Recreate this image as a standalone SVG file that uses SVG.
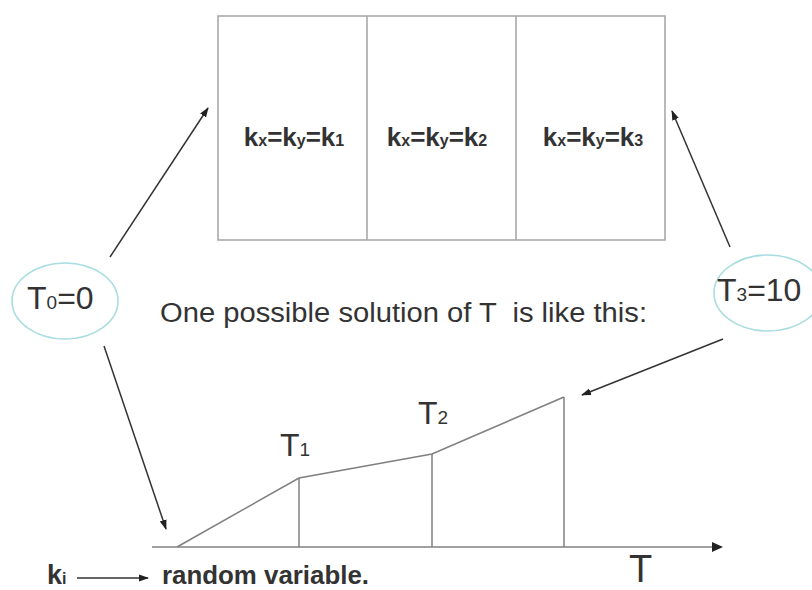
<svg xmlns="http://www.w3.org/2000/svg" width="812" height="590" viewBox="0 0 812 590">
<defs>
<marker id="ah" viewBox="0 0 10 10" refX="9" refY="5" markerWidth="10" markerHeight="10" markerUnits="userSpaceOnUse" orient="auto"><path d="M0,1.5 L10,5 L0,8.5 z" fill="#222"/></marker>
</defs>
<style>
.t{font-family:"Liberation Sans",Arial,sans-serif;fill:#333}
.b{font-weight:bold}
.box{fill:#fff;stroke:#a8a8a8;stroke-width:1.6}
.div{stroke:#a8a8a8;stroke-width:1.6}
.ell{fill:none;stroke:#a9dde0;stroke-width:1.6}
.conn{stroke:#333;stroke-width:1.5;fill:none;marker-end:url(#ah)}
.plot{stroke:#808080;stroke-width:1.5;fill:none}
</style>
<rect width="812" height="590" fill="#fff"/>
<g id="box">
<rect class="box" x="218" y="16" width="447" height="224"/>
<line class="div" x1="367" y1="16" x2="367" y2="240"/>
<line class="div" x1="516" y1="16" x2="516" y2="240"/>
</g>
<g id="cell1"><text class="t b" x="294" y="146" font-size="26" text-anchor="middle">k<tspan font-size="16">x</tspan>=k<tspan font-size="16">y</tspan>=k<tspan font-size="16">1</tspan></text></g>
<g id="cell2"><text class="t b" x="437" y="146" font-size="26" text-anchor="middle">k<tspan font-size="16">x</tspan>=k<tspan font-size="16">y</tspan>=k<tspan font-size="16">2</tspan></text></g>
<g id="cell3"><text class="t b" x="593" y="146" font-size="26" text-anchor="middle">k<tspan font-size="16">x</tspan>=k<tspan font-size="16">y</tspan>=k<tspan font-size="16">3</tspan></text></g>
<g id="t0">
<ellipse class="ell" cx="65" cy="301" rx="53" ry="38"/>
<text class="t" x="27" y="309" font-size="32">T<tspan font-size="19">0</tspan>=0</text>
</g>
<g id="t3">
<ellipse class="ell" cx="768" cy="293" rx="54" ry="38"/>
<text class="t" x="717" y="301" font-size="32">T<tspan font-size="19">3</tspan>=10</text>
</g>
<g id="caption">
<text class="t" x="160" y="322" font-size="27" textLength="487" lengthAdjust="spacingAndGlyphs" xml:space="preserve">One possible solution of T  is like this:</text>
</g>
<g id="graph">
<line class="plot" x1="152" y1="547" x2="712" y2="547"/>
<path d="M712,542 L723,547 L712,552 z" fill="#222"/>
<polyline class="plot" points="177,547 299,478 432,454 564,397"/>
<line class="plot" x1="299" y1="478" x2="299" y2="547"/>
<line class="plot" x1="432" y1="454" x2="432" y2="547"/>
<line class="plot" x1="564" y1="397" x2="564" y2="547"/>
</g>
<g id="labelT1"><text class="t" x="280" y="456" font-size="32">T<tspan font-size="19">1</tspan></text></g>
<g id="labelT2"><text class="t" x="418" y="424" font-size="32">T<tspan font-size="19">2</tspan></text></g>
<g id="axisT"><text class="t" x="629" y="582" font-size="38">T</text></g>
<g id="ki"><text class="t b" x="47" y="584" font-size="27">k<tspan font-size="16">i</tspan></text></g>
<g id="rv"><text class="t b" x="162" y="584" font-size="26" textLength="207" lengthAdjust="spacingAndGlyphs">random variable.</text></g>
<g id="connectors">
<line class="conn" x1="110" y1="257" x2="208" y2="108"/>
<line class="conn" x1="730" y1="247" x2="672" y2="111"/>
<line class="conn" x1="723" y1="339" x2="582" y2="395"/>
<line class="conn" x1="104" y1="346" x2="166" y2="529"/>
<line class="conn" x1="77" y1="578" x2="148" y2="578"/>
</g>
</svg>
